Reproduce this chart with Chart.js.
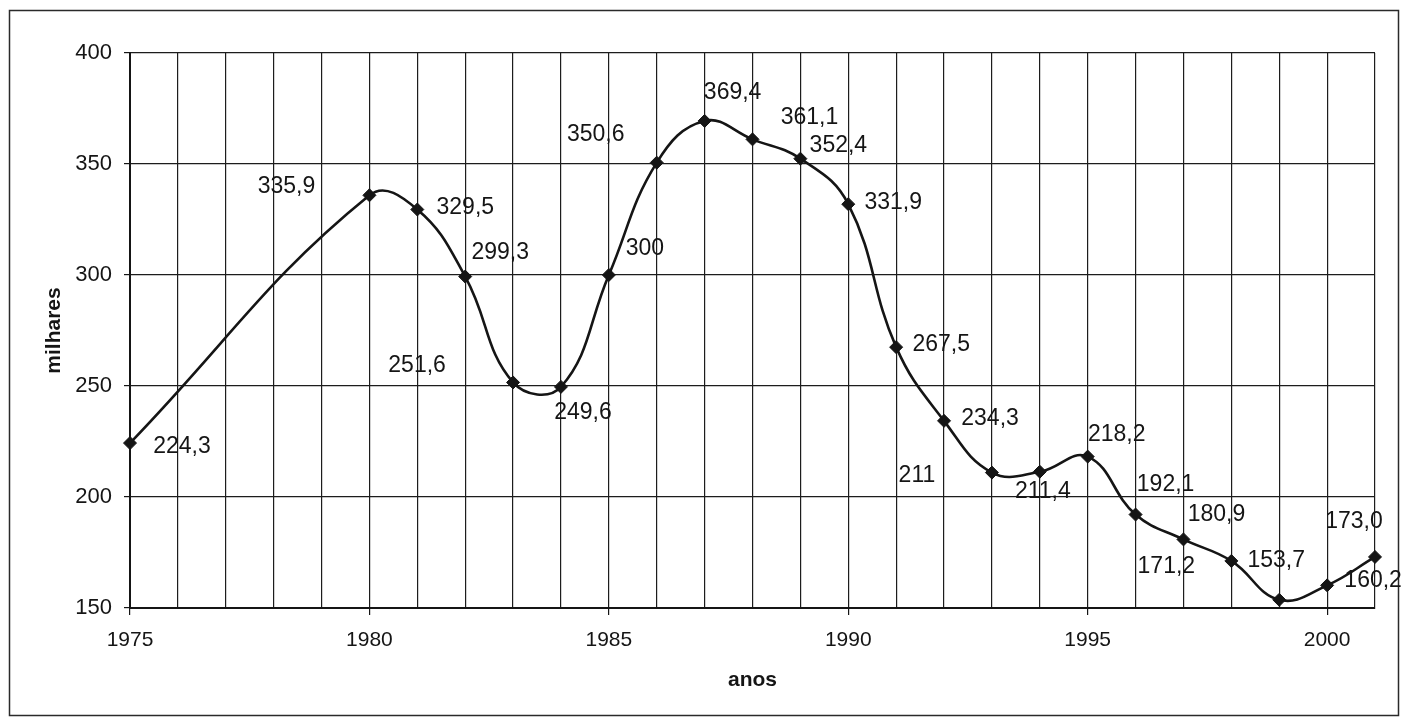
<!DOCTYPE html>
<html lang="pt">
<head>
<meta charset="utf-8">
<title>milhares por ano, 1975–2001</title>
<script src="https://cdn.jsdelivr.net/npm/chart.js@4.4.1/dist/chart.umd.min.js"></script>
<style>
  html, body { margin: 0; padding: 0; background: #fff; }
  #wrap { width: 1403px; height: 719px; position: relative; }
</style>
</head>
<body>
<div id="wrap"><canvas id="chart" width="1403" height="719"></canvas></div>
<script>
// Years and values (milhares)
const years = [1975, 1980, 1981, 1982, 1983, 1984, 1985, 1986, 1987, 1988, 1989, 1990,
               1991, 1992, 1993, 1994, 1995, 1996, 1997, 1998, 1999, 2000, 2001];
const values = [224.3, 335.9, 329.5, 299.3, 251.6, 249.6, 300, 350.6, 369.4, 361.1, 352.4, 331.9,
                267.5, 234.3, 211, 211.4, 218.2, 192.1, 180.9, 171.2, 153.7, 160.2, 173.0];
// Decimal places shown in each value label
const decimals = [1, 1, 1, 1, 1, 1, 0, 1, 1, 1, 1, 1,
                  1, 1, 0, 1, 1, 1, 1, 1, 1, 1, 1];
// Axis range and labelled ticks
const yRange = [150, 400];
const yStep = 50;
const xRange = [1975, 2001];
const xLabelEvery = 5;
const xTitle = 'anos';
const yTitle = 'milhares';

// Offset (px) of each value label's centre from its point
const labelNudge = [
  [52, 4], [-83, -9], [48, -2], [35, -24], [-96, -17], [22, 26], [36, -26], [-61, -28],
  [28, -28], [57, -22], [38, -13], [45, -2], [45, -2], [46, -2], [-75, 3], [3, 20],
  [29, -22], [30, -30], [33, -25], [-65, 6], [-3, -39], [46, -5], [-21, -35]
];

const INK = '#151515';
const FONT = '"Liberation Sans", Arial, sans-serif';

function fmt(v, d) {
  return v.toFixed(d).replace('.', ',');
}

// Outer frame, axis titles and value labels
const decorations = {
  id: 'decorations',
  beforeDraw(chart) {
    const c = chart.ctx;
    c.save();
    c.fillStyle = '#fff';
    c.fillRect(0, 0, chart.width, chart.height);
    c.strokeStyle = '#2a2a2a';
    c.lineWidth = 1.5;
    c.strokeRect(9.5, 10.5, 1389, 705);
    c.restore();
  },
  afterDatasetsDraw(chart) {
    const c = chart.ctx;
    const meta = chart.getDatasetMeta(0);
    c.save();
    c.fillStyle = INK;
    c.font = '23px ' + FONT;
    c.textAlign = 'center';
    c.textBaseline = 'middle';
    meta.data.forEach((pt, i) => {
      const [dx, dy] = labelNudge[i];
      c.fillText(fmt(values[i], decimals[i]), pt.x + dx, pt.y + dy);
    });
    // axis titles
    c.font = 'bold 21px ' + FONT;
    const area = chart.chartArea;
    c.fillText(xTitle, (area.left + area.right) / 2, 680);
    c.translate(54, (area.top + area.bottom) / 2);
    c.rotate(-Math.PI / 2);
    c.fillText(yTitle, 0, 0);
    c.restore();
  }
};

new Chart(document.getElementById('chart'), {
  type: 'line',
  data: {
    datasets: [{
      data: years.map((y, i) => ({ x: y, y: values[i] })),
      borderColor: INK,
      borderWidth: 2.6,
      tension: 0.42,
      clip: false,
      pointStyle: 'rectRot',
      pointRadius: 6.5,
      pointBackgroundColor: INK,
      pointBorderColor: INK,
      pointBorderWidth: 1,
      fill: false
    }]
  },
  options: {
    responsive: false,
    animation: false,
    events: [],
    layout: { padding: { left: 0, top: 53, right: 28, bottom: 0 } },
    plugins: { legend: { display: false }, tooltip: { enabled: false }, title: { display: false } },
    scales: {
      x: {
        type: 'linear',
        min: xRange[0],
        max: xRange[1],
        afterFit(scale) { scale.height = 111; },
        ticks: {
          stepSize: 1,
          autoSkip: false,
          maxRotation: 0,
          padding: 13,
          color: INK,
          font: { family: FONT, size: 21 },
          callback: v => (v % xLabelEvery === 0 ? String(v) : '')
        },
        grid: {
          color: '#1c1c1c',
          lineWidth: 1.2,
          tickLength: 7,
          tickColor: ctx => (ctx.tick && ctx.tick.value % xLabelEvery === 0 ? INK : 'rgba(0,0,0,0)')
        },
        border: { color: INK, width: 2 }
      },
      y: {
        min: yRange[0],
        max: yRange[1],
        afterFit(scale) { scale.width = 130; },
        ticks: {
          stepSize: yStep,
          padding: 12,
          color: INK,
          font: { family: FONT, size: 22 }
        },
        grid: { color: '#1c1c1c', lineWidth: 1.2, tickLength: 6, tickColor: INK },
        border: { color: INK, width: 2 }
      }
    }
  },
  plugins: [decorations]
});
</script>
</body>
</html>
